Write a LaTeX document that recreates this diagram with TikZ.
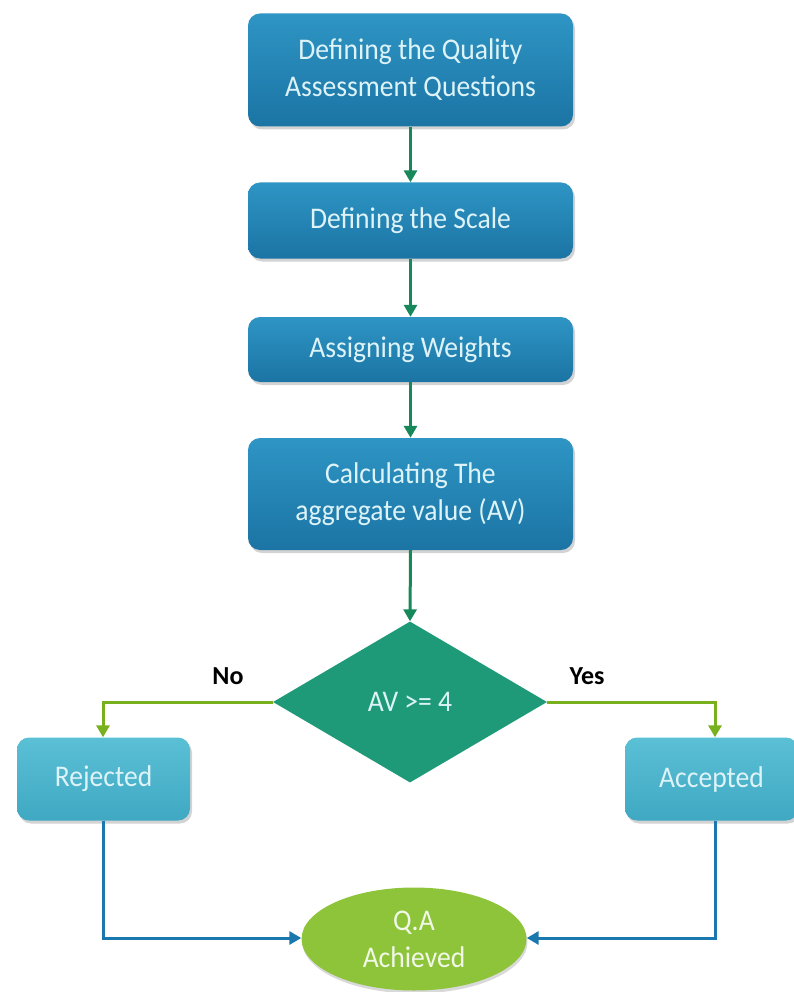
\documentclass[tikz,border=0pt]{standalone}
\usepackage{fontspec}
\setmainfont{Carlito}
\newfontfamily\tallfont[FakeStretch=0.92]{Carlito}
\usetikzlibrary{shapes.geometric,arrows.meta,shadows,calc}
\definecolor{boxtop}{HTML}{2E95C4}
\definecolor{boxbot}{HTML}{1B74A4}
\definecolor{ltop}{HTML}{5BC0D6}
\definecolor{lbot}{HTML}{3FA8C2}
\definecolor{dia}{HTML}{1E9A78}
\definecolor{ell}{HTML}{8DC43A}
\definecolor{arrgreen}{HTML}{17885A}
\definecolor{arrlime}{HTML}{78B01E}
\definecolor{arrblue}{HTML}{1A78AE}
\definecolor{txtlight}{HTML}{DDF3F8}
\begin{document}
\begin{tikzpicture}[x=1pt,y=-1pt,
  txt/.style={font=\tallfont\fontsize{30}{37}\selectfont},
  mainbox/.style={txt, rectangle, rounded corners=12pt, top color=boxtop, bottom color=boxbot,
     text=txtlight, align=center, minimum width=325pt, inner sep=0pt,
     drop shadow={shadow xshift=2pt, shadow yshift=-3pt, opacity=0.35}},
  sidebox/.style={txt, rectangle, rounded corners=12pt, top color=ltop, bottom color=lbot,
     text=txtlight, align=center, minimum width=173pt, minimum height=83pt, inner sep=0pt,
     drop shadow={shadow xshift=2pt, shadow yshift=-3pt, opacity=0.35}},
  decision/.style={txt, diamond, fill=dia, text=txtlight, minimum width=274pt, minimum height=161pt,
     inner sep=0pt, aspect=1.7},
  endnode/.style={txt, ellipse, fill=ell, text=white!88!ell, align=center, minimum width=225pt,
     minimum height=103pt, inner sep=0pt,
     drop shadow={shadow xshift=1pt, shadow yshift=-3pt, opacity=0.3}},
  lbl/.style={font=\fontsize{26}{30}\selectfont\bfseries, text=black},
  tipA/.style={-{Triangle[width=13pt,length=12pt]}, line width=3pt}
]
\useasboundingbox (0,0) rectangle (794,992);

\node[mainbox, minimum height=113pt] (q) at (410.5,70) {Defining the Quality\\Assessment Questions};
\node[mainbox, minimum height=76pt] (s) at (410.5,220.5) {Defining the Scale};
\node[mainbox, minimum height=65pt] (w) at (410.5,349.5) {Assigning Weights};
\node[mainbox, minimum height=112pt] (c) at (410.5,494) {Calculating The\\aggregate value (AV)};
\node[decision] (d) at (410,702) {AV >= 4};
\node[sidebox] (r) at (103.5,779) {Rejected};
\node[sidebox] (a) at (711.5,779) {Accepted};
\node[endnode] (e) at (414,939) {Q.A\\Achieved};

\coordinate (rl) at (103,702);
\coordinate (al) at (715,702);
\coordinate (rb) at (103,938);
\coordinate (ab) at (715,938);

\draw[tipA, arrgreen] (q.south) -- (s.north);
\draw[tipA, arrgreen] (s.south) -- (w.north);
\draw[tipA, arrgreen] (w.south) -- (c.north);
\draw[tipA, arrgreen] (c.south) -- (d.north);

\draw[tipA, arrlime] (d.west) -- (rl) -- (r.north -| rl);
\draw[tipA, arrlime] (d.east) -- (al) -- (a.north -| al);

\draw[tipA, arrblue] (r.south -| rb) -- (rb) -- (e.west |- rb);
\draw[tipA, arrblue] (a.south -| ab) -- (ab) -- (e.east |- ab);

\node[lbl] (no) at (228,676) {No};
\node[lbl] (yes) at (587,676) {Yes};
\end{tikzpicture}
\end{document}
